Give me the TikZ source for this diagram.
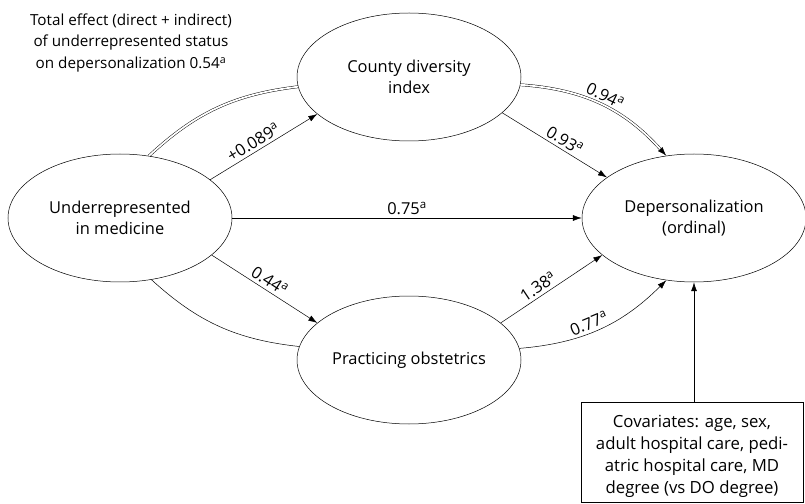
\documentclass[tikz,border=0pt]{standalone}
\usepackage{fontspec}
\setmainfont{Open Sans}
\usetikzlibrary{arrows.meta,shapes.geometric}

\newcommand{\coef}[1]{#1\textsuperscript{a}}

\begin{document}
\begin{tikzpicture}[x=1bp,y=-1bp,>={Latex[length=9pt,width=6pt]},
  font=\fontsize{16.5}{20.5}\selectfont,
  var/.style={ellipse,draw,line width=0.5pt,minimum width=224bp,minimum height=128bp,inner sep=0pt,align=center},
  path/.style={->,line width=0.5pt},
  total/.style={line width=0.45pt,double,double distance=1.8pt},
  coeflabel/.style={sloped,above,inner sep=3pt}]

\useasboundingbox (0,0) rectangle (805,504);

% The variables
\node[var] (urm) at (120,218) {Underrepresented\\in medicine};
\node[var] (cdi) at (409,77) {County diversity\\index};
\node[var] (obs) at (409,360) {Practicing obstetrics};
\node[var] (dep) at (694,218) {Depersonalization\\(ordinal)};

% The covariates
\node[draw,line width=0.6pt,minimum width=222bp,minimum height=100bp] (cov) at (692,452) {};
\node[align=center,font=\fontsize{16.8}{22}\selectfont] (covtext) at (692,456)
  {Covariates: age, sex,\\adult hospital care, pedi-\\atric hospital care, MD\\degree (vs DO degree)};

\node[align=center,font=\fontsize{15.3}{21.5}\selectfont] (tot) at (131,43) {Total effect (direct + indirect)\\of underrepresented status\\on depersonalization \coef{0.54}};

% The total effect
\draw[total] (urm.65) to[bend left=18] (cdi.185);
\draw[total,->] (cdi.-4) to[bend left=22] node[coeflabel,pos=0.5] {\coef{0.94}} (dep.114);

% The paths
\draw[path] (urm.23) -- node[coeflabel,pos=0.45] {\coef{+0.089}} (cdi.202);
\draw[path] (cdi.-21) -- node[coeflabel,pos=0.55] {\coef{0.93}} (dep.155);
\draw[path] (urm.east) -- node[coeflabel,pos=0.5] {\coef{0.75}} (dep.west);
\draw[path] (urm.-22) -- node[coeflabel,pos=0.5] {\coef{0.44}} (obs.158);
\draw[path] (obs.22) -- node[coeflabel,pos=0.42] {\coef{1.38}} (dep.202);
\draw[line width=0.5pt] (urm.-63) to[bend right=18] (obs.173);
\draw[path] (obs.6) to[bend right=20] node[coeflabel,pos=0.45] {\coef{0.77}} (dep.246);
\draw[path,line width=0.6pt] (cov.north -| dep.south) -- (dep.south);

\end{tikzpicture}
\end{document}
